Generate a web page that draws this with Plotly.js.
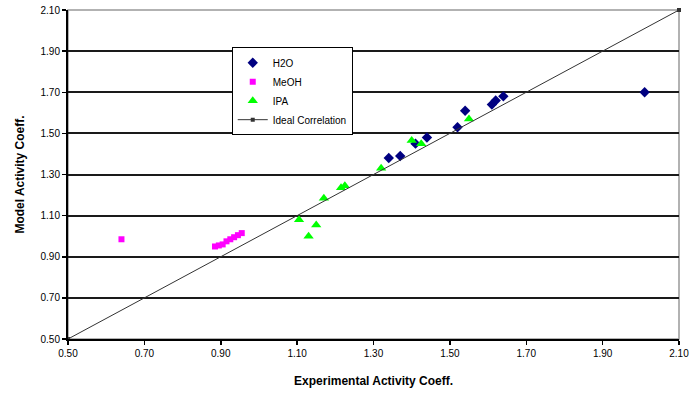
<!DOCTYPE html>
<html>
<head>
<meta charset="utf-8">
<script src="https://cdn.plot.ly/plotly-3.0.1.min.js"></script>
<style>html,body{margin:0;padding:0;background:#fff;}#chart{width:700px;height:397px;}</style>
</head>
<body>
<div id="chart"></div>
<script>
const h2oX = [1.34, 1.37, 1.41, 1.44, 1.52, 1.54, 1.61, 1.62, 1.64, 2.01];
const h2oY = [1.38, 1.39, 1.45, 1.48, 1.53, 1.61, 1.64, 1.66, 1.68, 1.70];
const meohX = [0.64, 0.885, 0.895, 0.905, 0.915, 0.925, 0.935, 0.945, 0.955];
const meohY = [0.985, 0.95, 0.955, 0.96, 0.975, 0.985, 0.995, 1.005, 1.015];
const ipaX = [1.105, 1.13, 1.15, 1.17, 1.215, 1.225, 1.32, 1.40, 1.425, 1.55];
const ipaY = [1.08, 1.00, 1.055, 1.185, 1.235, 1.245, 1.33, 1.465, 1.45, 1.57];
const idealX = [0.5, 2.1];
const idealY = [0.5, 2.1];
const tickVals = [0.5, 0.7, 0.9, 1.1, 1.3, 1.5, 1.7, 1.9, 2.1];

const font = {family: 'Liberation Sans, Arial, sans-serif', size: 10, color: '#000'};
const traces = [
  {x: h2oX, y: h2oY, name: 'H2O', type: 'scatter', mode: 'markers',
   marker: {symbol: 'diamond', size: 8, color: '#000080'}},
  {x: meohX, y: meohY, name: 'MeOH', type: 'scatter', mode: 'markers',
   marker: {symbol: 'square', size: 6, color: '#FF00FF'}},
  {x: ipaX, y: ipaY, name: 'IPA', type: 'scatter', mode: 'markers',
   marker: {symbol: 'triangle-up', size: 9, color: '#00FF00'}},
  {x: idealX, y: idealY, name: 'Ideal Correlation', type: 'scatter', mode: 'lines+markers',
   line: {color: '#333', width: 1}, marker: {symbol: 'square', size: 4, color: '#333'}, cliponaxis: false}
];
const layout = {
  width: 700, height: 397,
  margin: {l: 68, r: 21, t: 10, b: 58},
  paper_bgcolor: '#fff', plot_bgcolor: '#fff',
  font: font,
  showlegend: true,
  legend: {x: 0.268, y: 0.887, xanchor: 'left', yanchor: 'top',
    bordercolor: '#000', borderwidth: 1, bgcolor: '#fff',
    font: {family: 'Liberation Sans, Arial, sans-serif', size: 10, color: '#000'},
    tracegroupgap: 0, itemwidth: 30},
  xaxis: {range: [0.5, 2.1], tickvals: tickVals, tickformat: '.2f',
    showgrid: false, zeroline: false, showline: true, linecolor: '#000', linewidth: 2,
    ticks: 'outside', ticklen: 4, tickwidth: 1.5, tickcolor: '#000',
    tickfont: font,
    title: {text: 'Experimental Activity Coeff.', font: {family: 'Liberation Sans, Arial, sans-serif', size: 12, color: '#000', weight: 'bold'}, standoff: 19}},
  yaxis: {range: [0.5, 2.1], tickvals: tickVals, tickformat: '.2f',
    showgrid: true, gridcolor: '#1a1a1a', gridwidth: 2, zeroline: false,
    showline: true, linecolor: '#000', linewidth: 2,
    ticks: 'outside', ticklen: 4, tickwidth: 1.5, tickcolor: '#000',
    tickfont: font,
    title: {text: 'Model Activity Coeff.', font: {family: 'Liberation Sans, Arial, sans-serif', size: 12, color: '#000', weight: 'bold'}, standoff: 13}},
  shapes: [{type: 'rect', xref: 'paper', yref: 'paper', x0: 0, x1: 1, y0: 0, y1: 1,
    line: {color: '#999', width: 1.5}, layer: 'below'}]
};
Plotly.newPlot('chart', traces, layout, {displayModeBar: false, staticPlot: true});
</script>
</body>
</html>
